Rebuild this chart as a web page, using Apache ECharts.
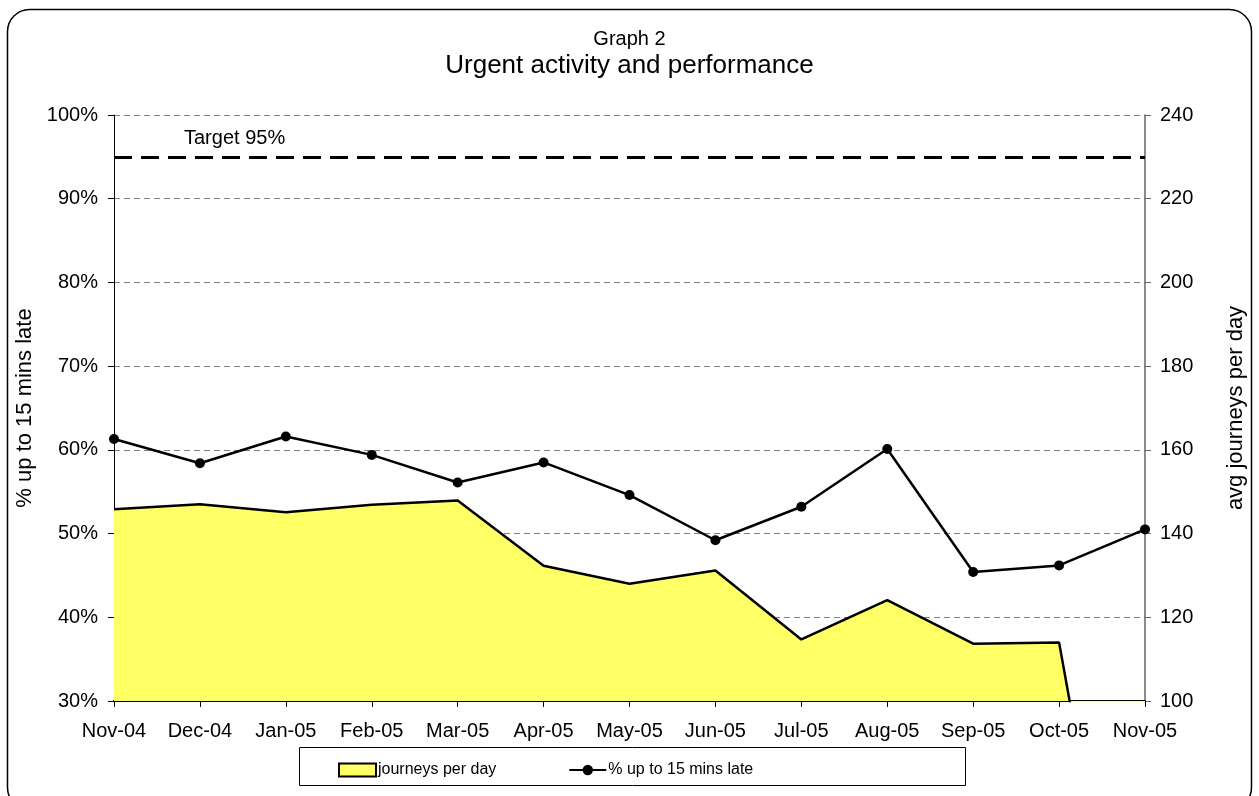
<html>
<head>
    <meta charset="utf-8">
    <title>Graph 2</title>
    <script src="https://cdn.jsdelivr.net/npm/echarts@6/dist/echarts.min.js"></script>
    <style>
        html, body { margin: 0; padding: 0; width: 1259px; height: 796px; background: #fff; }
        #main { width: 1259px; height: 796px; }
    </style>
</head>
<body>
<div id="main"></div>
<script type="text/javascript">
    // 数据
    var months = ['Nov-04', 'Dec-04', 'Jan-05', 'Feb-05', 'Mar-05', 'Apr-05', 'May-05',
                  'Jun-05', 'Jul-05', 'Aug-05', 'Sep-05', 'Oct-05', 'Nov-05'];
    var journeysPerDay = [145.8, 147.0, 145.1, 146.9, 147.9, 132.3, 128.0, 131.2, 114.7, 124.1, 113.7, 114.0, 0];
    var pctLate = [61.3, 58.4, 61.6, 59.4, 56.1, 58.5, 54.6, 49.2, 53.2, 60.1, 45.4, 46.2, 50.5];
    var target = 95;

    var font = 'Liberation Sans, Arial, sans-serif';
    var myChart = echarts.init(document.getElementById('main'));

    option = {
        animation: false,
        textStyle: { fontFamily: font, color: '#000' },
        title: [
            {
                text: 'Graph 2',
                left: 'center',
                top: 29,
                padding: 0,
                textStyle: { fontFamily: font, fontSize: 20, fontWeight: 'normal', color: '#000' }
            },
            {
                text: 'Urgent activity and performance',
                left: 'center',
                top: 53,
                padding: 0,
                textStyle: { fontFamily: font, fontSize: 26, fontWeight: 'normal', color: '#000' }
            }
        ],
        graphic: [
            {   // 外框
                type: 'rect',
                shape: { x: 7.5, y: 9.5, width: 1244, height: 800, r: 22 },
                style: { fill: 'none', stroke: '#000', lineWidth: 1.5 },
                silent: true
            },
            {   // 图例框
                type: 'rect',
                shape: { x: 299.5, y: 747.5, width: 666, height: 38 },
                style: { fill: '#fff', stroke: '#000', lineWidth: 1 },
                z: 0,
                silent: true
            }
        ],
        legend: {
            left: 333,
            top: 757,
            itemGap: 72,
            itemWidth: 37,
            itemHeight: 13,
            textStyle: { fontFamily: font, fontSize: 16, color: '#000', padding: [0, 0, 0, -3] },
            data: [
                { name: 'journeys per day', icon: 'rect',
                  itemStyle: { color: '#ffff66', borderColor: '#000', borderWidth: 2 } },
                { name: '% up to 15 mins late' }
            ]
        },
        grid: {
            left: 114,
            right: 114,
            top: 115,
            bottom: 95
        },
        xAxis: {
            type: 'category',
            boundaryGap: false,
            data: months,
            axisLine: { lineStyle: { color: '#000', width: 2 } },
            axisTick: { alignWithLabel: true, length: 6, lineStyle: { color: '#000' } },
            axisLabel: { color: '#000', fontSize: 20, margin: 20, interval: 0 }
        },
        yAxis: [
            {
                type: 'value',
                min: 30,
                max: 100,
                interval: 10,
                name: '% up to 15 mins late',
                nameLocation: 'middle',
                nameRotate: 90,
                nameGap: 74,
                nameTextStyle: { fontSize: 22, color: '#000' },
                axisLine: { show: true, lineStyle: { color: '#000', width: 1 } },
                axisTick: { show: true, length: 6, lineStyle: { color: '#000' } },
                axisLabel: { color: '#000', fontSize: 20, margin: 16, formatter: '{value}%' },
                splitLine: { show: true, lineStyle: { color: '#808080', type: [6, 4], width: 1 } }
            },
            {
                type: 'value',
                min: 100,
                max: 240,
                interval: 20,
                position: 'right',
                name: 'avg journeys per day',
                nameLocation: 'middle',
                nameRotate: 90,
                nameGap: 80,
                nameTextStyle: { fontSize: 22, color: '#000' },
                axisLine: { show: true, lineStyle: { color: '#666', width: 1.5 } },
                axisTick: { show: true, length: 6, lineStyle: { color: '#666' } },
                axisLabel: { color: '#000', fontSize: 20, margin: 15 },
                splitLine: { show: false }
            }
        ],
        series: [
            {
                name: 'journeys per day',
                type: 'line',
                yAxisIndex: 1,
                data: journeysPerDay,
                symbol: 'none',
                clip: true,
                lineStyle: { color: '#000', width: 2.5 },
                itemStyle: { color: '#ffff66' },
                areaStyle: { color: '#ffff66', opacity: 1, origin: 'start' },
                z: 1
            },
            {
                name: '% up to 15 mins late',
                type: 'line',
                yAxisIndex: 0,
                data: pctLate,
                symbol: 'circle',
                symbolSize: 10,
                lineStyle: { color: '#000', width: 2.5 },
                itemStyle: { color: '#000' },
                z: 3,
                markLine: {
                    silent: true,
                    symbol: ['none', 'none'],
                    lineStyle: { color: '#000', width: 3, type: [18, 9] },
                    label: {
                        show: true,
                        position: 'insideStartTop',
                        formatter: 'Target ' + target + '%',
                        color: '#000',
                        fontSize: 20,
                        distance: [70, 8]
                    },
                    data: [{ yAxis: target }]
                }
            }
        ]
    };
    myChart.setOption(option);
</script>
</body>
</html>
